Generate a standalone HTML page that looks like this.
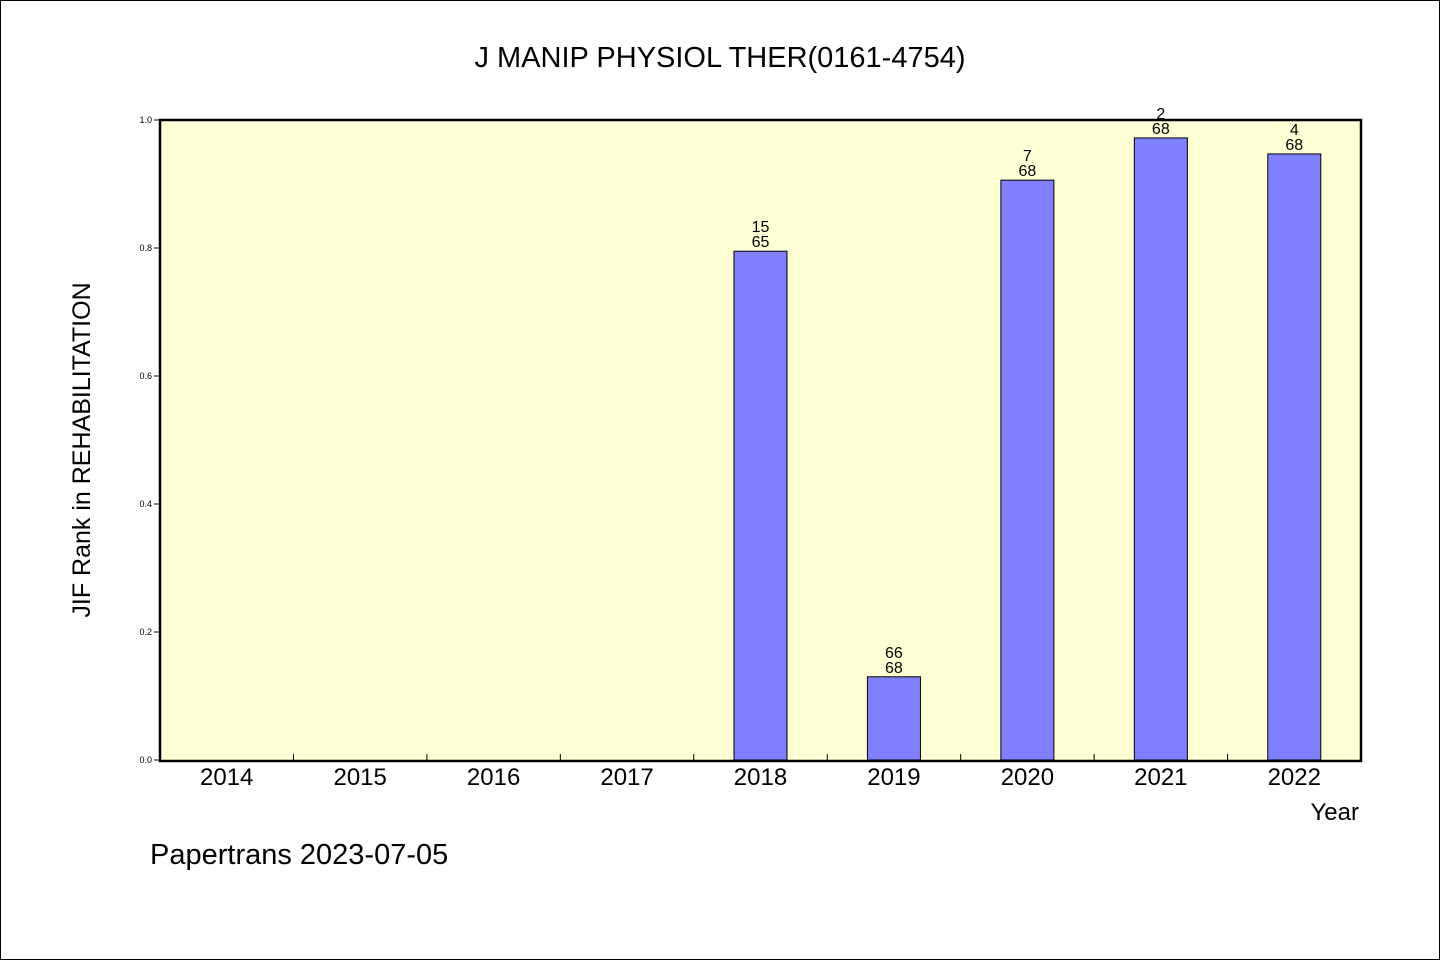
<!DOCTYPE html>
<html><head><meta charset="utf-8"><style>
body{margin:0;background:#fff}
svg{display:block;font-family:"Liberation Sans","WenQuanYi Zen Hei",sans-serif}
</style></head><body>
<svg id="chart" width="1440" height="960">
<rect x="0.5" y="0.5" width="1439" height="959" fill="#fff" stroke="#000"/>
<text x="720" y="67" font-size="29" text-anchor="middle">J MANIP PHYSIOL THER(0161-4754)</text>
<rect x="160" y="120" width="1201" height="641" fill="#ffffd5"/>
<g id="marks"></g>
<rect x="160" y="120" width="1201" height="641" fill="none" stroke="#000" stroke-width="2.5"/>
<text transform="translate(90,450) rotate(-90)" font-size="25" text-anchor="middle">JIF Rank in REHABILITATION</text>
<text x="1359" y="820" font-size="24" text-anchor="end">Year</text>
<text x="150" y="864" font-size="29">Papertrans 2023-07-05</text>
</svg>
<script>
const years=["2014","2015","2016","2017","2018","2019","2020","2021","2022"];
const values=[null,null,null,null,0.795,0.13,0.906,0.972,0.947];
const ranks=[null,null,null,null,"15","66","7","2","4"];
const totals=[null,null,null,null,"65","68","68","68","68"];
const yTicks=[0,0.2,0.4,0.6,0.8,1.0];
const X0=160,X1=1361,Y0=760,Y1=120;
const NS="http://www.w3.org/2000/svg";
const g=document.getElementById('marks');
const slot=(X1-X0)/years.length;
const xC=i=>X0+slot*(i+0.5);
const yS=v=>Y0-(Y0-Y1)*v;
function mk(t,a){const e=document.createElementNS(NS,t);for(const k in a)e.setAttribute(k,a[k]);g.appendChild(e);return e;}
yTicks.forEach(v=>{
 const l=mk('line',{x1:X0-6,x2:X0,y1:yS(v),y2:yS(v),stroke:'#000'});
 
 
 const t=mk('text',{x:X0-8,y:yS(v)+3,'font-size':9,'text-anchor':'end'});
 t.textContent=v.toFixed(1);
 
 
});
years.forEach((y,i)=>{
 if(i>0){const l=mk('line',{x1:X0+slot*i,x2:X0+slot*i,y1:Y0-6,y2:Y0,stroke:'#000'});
 
 }
 const t=mk('text',{x:xC(i),y:785,'font-size':24,'text-anchor':'middle'});
 t.textContent=y;
 
 
 const v=values[i];
 if(v!=null){
  const b=mk('rect',{x:xC(i)-26.5,y:yS(v),width:53,height:Y0-yS(v),fill:'#8080ff',stroke:'#000','stroke-width':1});
  
  
  const t1=mk('text',{x:xC(i),y:yS(v)-19,'font-size':16,'text-anchor':'middle'});
  t1.textContent=ranks[i];
  
  
  const t2=mk('text',{x:xC(i),y:yS(v)-4,'font-size':16,'text-anchor':'middle'});
  t2.textContent=totals[i];
  
  
 }
});
</script>
</body></html>
